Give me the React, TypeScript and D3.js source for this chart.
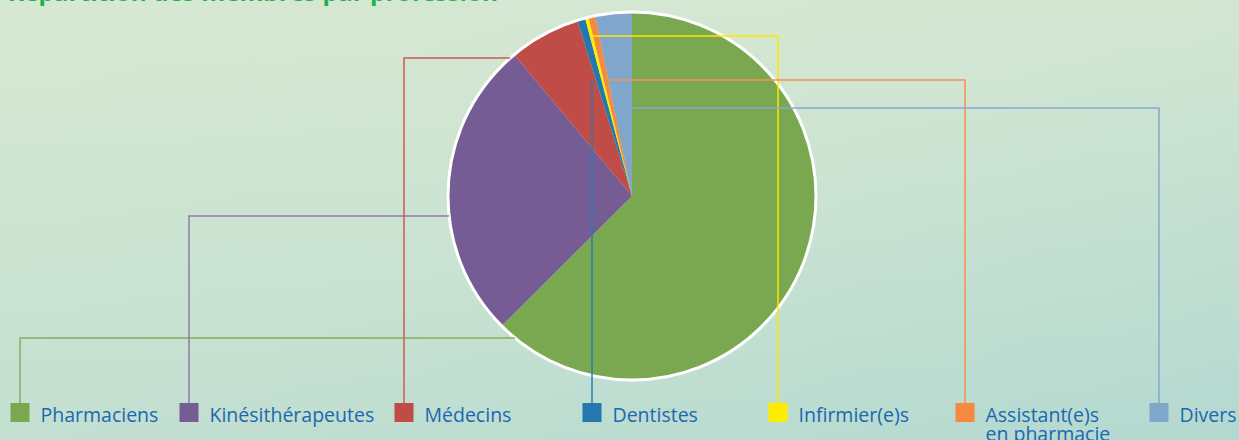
import React from "react";
import * as d3 from "d3";

const categories = [
  "Pharmaciens",
  "Kinésithérapeutes",
  "Médecins",
  "Dentistes",
  "Infirmier(e)s",
  "Assistant(e)s en pharmacie",
  "Divers",
];
const values = [62.5, 26.4, 6.25, 0.7, 0.3, 0.6, 3.2];
const colors = ["#79a851", "#765c94", "#c04c48", "#2378b0", "#ffed00", "#f5893e", "#80a6cc"];
const lineColors = ["#85ad64", "#8d7dac", "#cf5a57", "#2b7ab5", "#ffe800", "#f3914d", "#85a8d4"];
const legendLines = [["Pharmaciens"], ["Kinésithérapeutes"], ["Médecins"], ["Dentistes"], ["Infirmier(e)s"], ["Assistant(e)s", "en pharmacie"], ["Divers"]];
const title = "Répartition des membres par profession";

// layout for leader lines
const legendX = [20, 189, 404, 592, 778, 965, 1159];
const leaderY = [338, 216, 58, null, 36, 80, 108];
const leaderMode = ["edge", "edge", "edge", "vertical", "mid", "mid", "end"];

const W = 1239;
const H = 440;
const cx = 632;
const cy = 196;
const R = 184;
const legendTop = 403;

export default function App() {
  const pie = d3.pie<number>().sort(null).value((d) => d);
  const arcs = pie(values);
  const arc = d3.arc<d3.PieArcDatum<number>>().innerRadius(0).outerRadius(R);

  const leaders = arcs.map((a, i) => {
    const lx = legendX[i];
    const mode = leaderMode[i];
    if (mode === "vertical") {
      const ang = a.startAngle;
      const rr = R * 0.66;
      const y = cy - rr * Math.cos(ang);
      return `M${lx},${y}V${legendTop}`;
    }
    const hy = leaderY[i] as number;
    let sx: number;
    if (mode === "edge") {
      sx = cx - Math.sqrt(R * R - (hy - cy) * (hy - cy));
    } else {
      const ang = mode === "mid" ? (a.startAngle + a.endAngle) / 2 : a.endAngle;
      sx = cx + (hy - cy) * -Math.tan(ang);
    }
    return `M${sx},${hy}H${lx}V${legendTop}`;
  });

  return (
    <div style={{ position: "fixed", left: 0, top: 0, width: W, height: H }}>
      <svg width={W} height={H} style={{ display: "block" }}>
        <defs>
          <linearGradient id="bg" x1="0" y1="0" x2="1" y2="1">
            <stop offset="0" stopColor="#d8e9d3" />
            <stop offset="0.5" stopColor="#cfe4d2" />
            <stop offset="1" stopColor="#aed6d0" />
          </linearGradient>
          <linearGradient id="bg2" x1="0" y1="0" x2="0" y2="1">
            <stop offset="0" stopColor="#d6e8d2" stopOpacity="0.5" />
            <stop offset="1" stopColor="#b8dbd0" stopOpacity="0.5" />
          </linearGradient>
        </defs>
        <rect width={W} height={H} fill="url(#bg)" />
        <rect width={W} height={H} fill="url(#bg2)" />
        <text
          x={8}
          y={1}
          fill="#1db24b"
          fontFamily="'Open Sans', sans-serif"
          fontWeight={700}
          fontSize={22}
          textLength={490}
          lengthAdjust="spacingAndGlyphs"
        >
          {title}
        </text>
        <g transform={`translate(${cx},${cy})`}>
          {arcs.map((a, i) => (
            <path key={i} d={arc(a) || ""} fill={colors[i]} />
          ))}
          <circle r={R} fill="none" stroke="#ffffff" strokeWidth={3} />
        </g>
        {leaders.map((d, i) => (
          <path key={i} d={d} fill="none" stroke={lineColors[i]} strokeWidth={1.5} />
        ))}
        {categories.map((c, i) => (
          <g key={c}>
            <rect x={legendX[i] - 9.5} y={legendTop} width={19} height={19} fill={colors[i]} />
            <text
              x={legendX[i] + 20.5}
              y={421.5}
              fill="#1b68b0"
              fontFamily="'Open Sans', sans-serif"
              fontSize={19.5}
            >
              {legendLines[i].map((t, j) => (
                <tspan key={j} x={legendX[i] + 20.5} dy={j === 0 ? 0 : 19}>
                  {t}
                </tspan>
              ))}
            </text>
          </g>
        ))}
      </svg>
    </div>
  );
}
